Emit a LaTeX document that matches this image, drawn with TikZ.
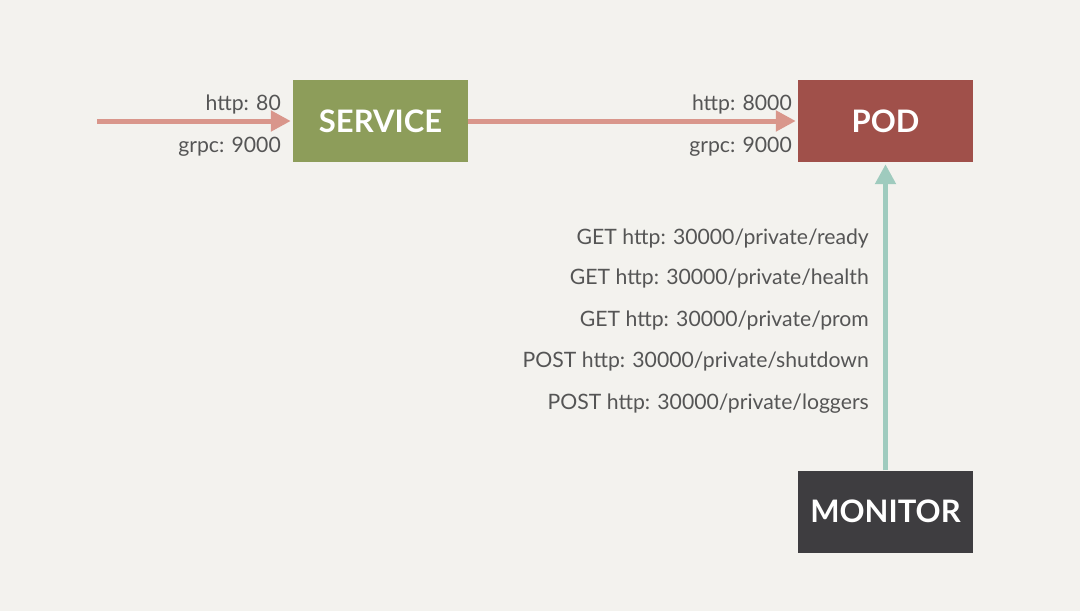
\documentclass[tikz,border=0pt]{standalone}
\usepackage{fontspec}
\setmainfont{Lato}
\usetikzlibrary{arrows.meta}
\definecolor{bgc}{HTML}{F3F2EE}
\definecolor{svcc}{HTML}{8D9D5A}
\definecolor{podc}{HTML}{A0504A}
\definecolor{monc}{HTML}{3E3D40}
\definecolor{redarr}{HTML}{D9968B}
\definecolor{tealarr}{HTML}{9FCBBE}
\definecolor{txt}{HTML}{555555}
\tikzset{
  box/.style={minimum width=175pt, minimum height=82pt, inner sep=0pt, text=white, font=\bfseries\fontsize{31}{31}\selectfont},
  lbl/.style={anchor=east, text=txt, inner sep=0pt, font=\fontsize{21.2}{21}\selectfont},
  redline/.style={draw=redarr, line width=5pt, -{Triangle[length=20pt,width=20pt]}},
  tealline/.style={draw=tealarr, line width=5pt, -{Triangle[length=20pt,width=20pt]}},
}
\begin{document}
\begin{tikzpicture}[x=1pt,y=-1pt]
\fill[bgc] (0,0) rectangle (1080,611);
\useasboundingbox (0,0) rectangle (1080,611);
\node[box, fill=svcc] (svc) at (380.5,121) {\raisebox{-1.5pt}{SERVICE}};
\node[box, fill=podc] (pod) at (885.5,121) {\raisebox{-1.5pt}{POD}};
\node[box, fill=monc] (mon) at (885.5,511.5) {\raisebox{-1.5pt}{MONITOR}};
\coordinate (in) at (97,121);
\draw[redline, shorten >=2pt] (in) -- (svc.west);
\draw[redline, shorten >=2pt] (svc.east) -- (pod.west);
\draw[tealline, shorten >=2pt] (mon.north) -- (pod.south);
\node[lbl] (l1) at (281,104.5) {http: 80};
\node[lbl] (l2) at (281,146.5) {grpc: 9000};
\node[lbl] (l3) at (792,104.5) {http: 8000};
\node[lbl] (l4) at (792,146.5) {grpc: 9000};
\node[lbl] (m1) at (869,238.5) {GET http: 30000/private/ready};
\node[lbl] (m2) at (869,278.5) {GET http: 30000/private/health};
\node[lbl] (m3) at (869,320.5) {GET http: 30000/private/prom};
\node[lbl] (m4) at (869,361.5) {POST http: 30000/private/shutdown};
\node[lbl] (m5) at (869,403.5) {POST http: 30000/private/loggers};
\end{tikzpicture}
\end{document}
